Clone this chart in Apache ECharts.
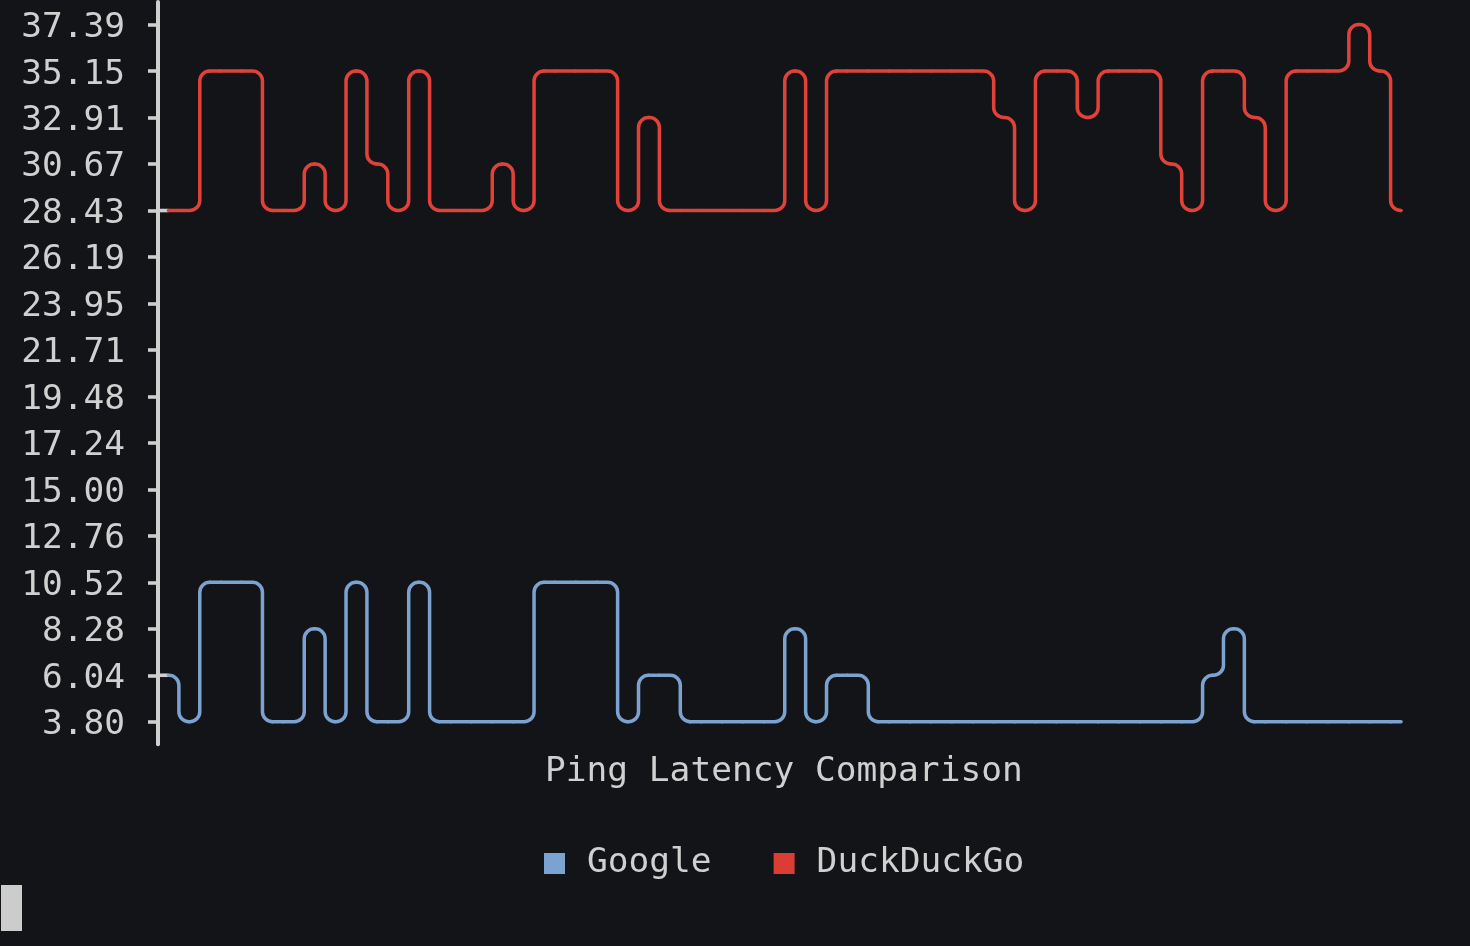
<!DOCTYPE html>
<html>
<head>
<meta charset="utf-8">
<title>Ping Latency Comparison</title>
<script src="https://cdn.jsdelivr.net/npm/echarts@6/dist/echarts.min.js"></script>
<style>
  html, body { margin: 0; padding: 0; background: #131417; }
  #chart { width: 1470px; height: 946px; }
</style>
</head>
<body>
<div id="chart"></div>
<script>
// ---- data ----
const yTicks = [3.80, 6.04, 8.28, 10.52, 12.76, 15.00, 17.24, 19.48, 21.71, 23.95, 26.19, 28.43, 30.67, 32.91, 35.15, 37.39];
const samples = [];
for (let i = 1; i <= 60; i++) samples.push(String(i));
const google = [
  6.04, 3.80, 10.52, 10.52, 10.52, 3.80, 3.80, 8.28, 3.80, 10.52,
  3.80, 3.80, 10.52, 3.80, 3.80, 3.80, 3.80, 3.80, 10.52, 10.52,
  10.52, 10.52, 3.80, 6.04, 6.04, 3.80, 3.80, 3.80, 3.80, 3.80,
  8.28, 3.80, 6.04, 6.04, 3.80, 3.80, 3.80, 3.80, 3.80, 3.80,
  3.80, 3.80, 3.80, 3.80, 3.80, 3.80, 3.80, 3.80, 3.80, 3.80,
  6.04, 8.28, 3.80, 3.80, 3.80, 3.80, 3.80, 3.80, 3.80, 3.80
];
const duckduckgo = [
  28.43, 28.43, 35.15, 35.15, 35.15, 28.43, 28.43, 30.67, 28.43, 35.15,
  30.67, 28.43, 35.15, 28.43, 28.43, 28.43, 30.67, 28.43, 35.15, 35.15,
  35.15, 35.15, 28.43, 32.91, 28.43, 28.43, 28.43, 28.43, 28.43, 28.43,
  35.15, 28.43, 35.15, 35.15, 35.15, 35.15, 35.15, 35.15, 35.15, 35.15,
  32.91, 28.43, 35.15, 35.15, 32.91, 35.15, 35.15, 35.15, 30.67, 28.43,
  35.15, 35.15, 32.91, 28.43, 35.15, 35.15, 35.15, 37.39, 35.15, 28.43
];
const seriesNames = ['Google', 'DuckDuckGo'];

// ---- style ----
const FONT = "'DejaVu Sans Mono', 'Liberation Mono', monospace";
const TEXT = '#d0d0d0';
const AXIS = '#cfcfcf';
const BLUE = '#7ba2d0';
const RED = '#e0423a';
const RADIUS = 10;
const K = 0.5523;

const tickStep = (yTicks[yTicks.length - 1] - yTicks[0]) / (yTicks.length - 1);
const ext = tickStep * 0.485;

function makeRender(values, color) {
  return function (params, api) {
    const i = params.dataIndex;
    const n = values.length;
    const c = api.coord([i, values[i]]);
    const x = c[0], y = c[1];
    const h = api.size([1, 0])[0] / 2;
    let sx;
    if (i === 0) {
      sx = x;
    } else if (values[i - 1] !== values[i]) {
      const yp = api.coord([i - 1, values[i - 1]])[1];
      const rp = Math.min(RADIUS, h, Math.abs(y - yp) / 2);
      sx = x - h + rp;
    } else {
      sx = x - h;
    }
    let d = 'M' + sx + ' ' + y;
    if (i === n - 1) {
      d += ' L' + x + ' ' + y;
    } else if (values[i + 1] !== values[i]) {
      const yn = api.coord([i + 1, values[i + 1]])[1];
      const r = Math.min(RADIUS, h, Math.abs(yn - y) / 2);
      const s = yn > y ? 1 : -1;
      const bx = x + h;
      d += ' L' + (bx - r) + ' ' + y;
      d += ' C' + (bx - r + K * r) + ' ' + y + ' ' + bx + ' ' + (y + s * r * (1 - K)) + ' ' + bx + ' ' + (y + s * r);
      d += ' L' + bx + ' ' + (yn - s * r);
      d += ' C' + bx + ' ' + (yn - s * r * (1 - K)) + ' ' + (bx + r - K * r) + ' ' + yn + ' ' + (bx + r) + ' ' + yn;
    } else {
      d += ' L' + (x + h) + ' ' + y;
    }
    const children = [];
    if (i === 0) {
      children.push({
        type: 'line',
        shape: { x1: x - h, y1: y, x2: x, y2: y },
        style: { stroke: AXIS, lineWidth: 3.6 }
      });
    }
    children.push({
      type: 'path',
      shape: { pathData: d },
      style: { stroke: color, fill: null, lineWidth: 3.5, lineCap: 'round', lineJoin: 'round' }
    });
    return { type: 'group', children: children };
  };
}

const chart = echarts.init(document.getElementById('chart'), null, { renderer: 'canvas' });
chart.setOption({
  backgroundColor: '#131417',
  animation: false,
  textStyle: { fontFamily: FONT },
  title: {
    text: 'Ping Latency Comparison',
    left: 545,
    top: 755,
    padding: 0,
    textStyle: { color: TEXT, fontSize: 34.5, fontWeight: 'normal', fontFamily: FONT }
  },
  legend: {
    data: seriesNames,
    left: 544,
    top: 846,
    padding: 0,
    icon: 'rect',
    itemWidth: 21,
    itemHeight: 21,
    itemGap: 62,
    selectedMode: false,
    textStyle: { color: TEXT, fontSize: 34.5, fontFamily: FONT, padding: [0, 0, 0, 17] }
  },
  graphic: [{
    type: 'rect',
    left: 1,
    top: 885,
    shape: { width: 21, height: 46 },
    style: { fill: '#cccccc' },
    silent: true
  }],
  grid: { left: 158, right: 58.5, top: 2, bottom: 946 - 744.3 },
  xAxis: {
    type: 'category',
    data: samples,
    boundaryGap: true,
    show: false
  },
  yAxis: {
    type: 'value',
    min: yTicks[0] - ext,
    max: yTicks[yTicks.length - 1] + ext,
    axisLine: { show: true, lineStyle: { color: AXIS, width: 4 } },
    axisTick: {
      show: true,
      customValues: yTicks,
      length: 10,
      lineStyle: { color: AXIS, width: 3.6 }
    },
    axisLabel: {
      customValues: yTicks,
      margin: 33,
      color: TEXT,
      fontSize: 34.5,
      fontFamily: FONT,
      verticalAlign: 'top',
      lineHeight: 7,
      formatter: function (v) { return Number(v).toFixed(2); }
    },
    splitLine: { show: false }
  },
  series: [
    {
      name: 'Google',
      type: 'custom',
      renderItem: makeRender(google, BLUE),
      itemStyle: { color: BLUE },
      encode: { x: 0, y: 1 },
      data: google.map(function (v, i) { return [i, v]; }),
      silent: true,
      z: 3
    },
    {
      name: 'DuckDuckGo',
      type: 'custom',
      renderItem: makeRender(duckduckgo, RED),
      itemStyle: { color: '#db3d35' },
      encode: { x: 0, y: 1 },
      data: duckduckgo.map(function (v, i) { return [i, v]; }),
      silent: true,
      z: 3
    }
  ]
});
</script>
</body>
</html>
